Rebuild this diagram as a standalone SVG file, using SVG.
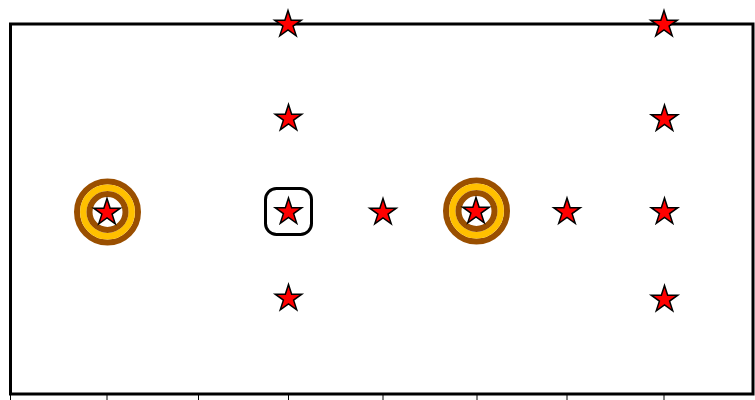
<svg xmlns="http://www.w3.org/2000/svg" width="755" height="400" viewBox="0 0 755 400">
<style>
.frame{fill:none;stroke:#000;stroke-width:3}
.tick{stroke:#000;stroke-width:1}
.star{fill:#ff0000;stroke:#000;stroke-width:1.5;stroke-linejoin:miter}
.rb{fill:none;stroke:#9a4f00;stroke-width:6}
.ry{fill:none;stroke:#ffc000;stroke-width:6.5}
.box{fill:none;stroke:#000;stroke-width:3}
</style>
<defs>
<polygon id="st" points="0,-14 3.15,-4.33 13.31,-4.33 5.09,1.65 8.23,11.33 0,5.35 -8.23,11.33 -5.09,1.65 -13.31,-4.33 -3.15,-4.33"/>
</defs>
<rect id="frame" class="frame" x="10.5" y="24" width="742.5" height="370"/>
<g id="ticks">
<line class="tick" x1="10.5" y1="395" x2="10.5" y2="400"/>
<line class="tick" x1="107" y1="395" x2="107" y2="400"/>
<line class="tick" x1="198.5" y1="395" x2="198.5" y2="400"/>
<line class="tick" x1="288.5" y1="395" x2="288.5" y2="400"/>
<line class="tick" x1="383" y1="395" x2="383" y2="400"/>
<line class="tick" x1="477" y1="395" x2="477" y2="400"/>
<line class="tick" x1="567" y1="395" x2="567" y2="400"/>
<line class="tick" x1="664" y1="395" x2="664" y2="400"/>
</g>
<g id="connectors"></g>
<g id="ring1">
<circle class="rb" cx="107.5" cy="212" r="30.5"/>
<circle class="ry" cx="107.5" cy="212" r="24.2"/>
<circle class="rb" cx="107.5" cy="212" r="18"/>
<use href="#st" class="star" x="107" y="212.5"/>
</g>
<g id="ring2">
<circle class="rb" cx="476.5" cy="211" r="30.5"/>
<circle class="ry" cx="476.5" cy="211" r="24.2"/>
<circle class="rb" cx="476.5" cy="211" r="18"/>
<use href="#st" class="star" x="476" y="211.5"/>
</g>
<g id="boxed">
<rect class="box" x="265.5" y="188.5" width="46" height="46" rx="11"/>
<use href="#st" class="star" x="288.5" y="212"/>
</g>
<g id="s1"><use href="#st" class="star" x="288" y="24.5"/></g>
<g id="s2"><use href="#st" class="star" x="664" y="24.5"/></g>
<g id="s3"><use href="#st" class="star" x="288.5" y="118.5"/></g>
<g id="s4"><use href="#st" class="star" x="664.5" y="119"/></g>
<g id="s5"><use href="#st" class="star" x="383" y="212.5"/></g>
<g id="s6"><use href="#st" class="star" x="567" y="212"/></g>
<g id="s7"><use href="#st" class="star" x="664.5" y="212"/></g>
<g id="s8"><use href="#st" class="star" x="288.5" y="298.5"/></g>
<g id="s9"><use href="#st" class="star" x="664.5" y="299.5"/></g>
</svg>
